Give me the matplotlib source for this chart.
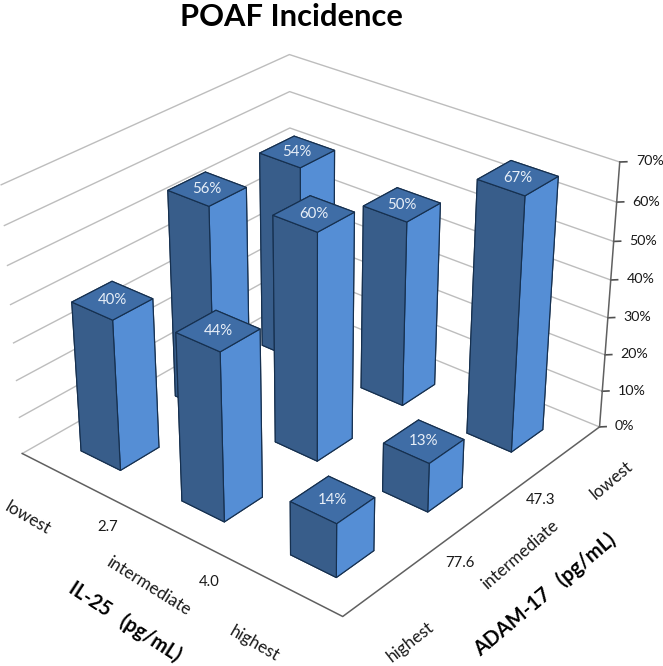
import matplotlib
matplotlib.use('Agg')
import matplotlib.pyplot as plt
from mpl_toolkits.mplot3d import proj3d

plt.rcParams['font.family'] = ['Lato', 'DejaVu Sans']

# data
il_levels = ['lowest', 'intermediate', 'highest']
adam_levels = ['highest', 'intermediate', 'lowest']
# rows = IL-25 level, columns = ADAM-17 level
poaf_lowest_il = [40, 56, 54]
poaf_mid_il = [44, 60, 50]
poaf_highest_il = [14, 13, 67]
z_ticks = [0, 10, 20, 30, 40, 50, 60, 70]

W, H = 663, 666
bar_w = 0.3993
dark, light, top = '#385D8A', '#558ED5', '#3F6DA6'
edge = '#16304F'
txt = '#1a1a1a'

fig = plt.figure(figsize=(W / 100, H / 100), dpi=100, facecolor='white')
size = 652.95
ax = fig.add_axes([(304.94 - size / 2) / W, (H - 320.11 - size / 2) / H, size / W, size / H],
                  projection='3d', proj_type='persp', focal_length=0.6111)
ax.view_init(elev=29.2, azim=-49.97)
ax.set_box_aspect((1.0033, 1, 0.7216))
ax.computed_zorder = False
ax.set_axis_off()

# walls and floor
for z in z_ticks:
    ax.plot([0, 0, 3], [0, 3, 3], [z, z, z], color='#BDBDBD', lw=1.0, zorder=1)
    ax.plot([3, 3.035], [3, 3.035], [z, z], color='#505050', lw=1.2, zorder=2)
ax.plot([0, 3, 3], [0, 0, 3], [0, 0, 0], color='#606060', lw=1.1, zorder=2)
ax.plot([3, 3], [3, 3], [0, 70], color='#606060', lw=1.1, zorder=2)

# bars, back to front
poaf = [poaf_lowest_il, poaf_mid_il, poaf_highest_il]
cells = [(i, j) for i in range(3) for j in range(3)]
cells.sort(key=lambda c: c[0] - c[1])
for n, (i, j) in enumerate(cells):
    v = poaf[i][j]
    # faces: -Z, +Z, -Y, +Y, -X, +X
    ax.bar3d(i + 0.5 - bar_w / 2, j + 0.5 - bar_w / 2, 0, bar_w, bar_w, v,
             color=[dark, top, dark, light, dark, light], edgecolor=edge, linewidth=0.85,
             shade=False, zorder=10 + n)

ax.set_xlim(0, 3)
ax.set_ylim(0, 3)
ax.set_zlim(0, 70)


# text3D boxes are wrong until drawn, so project first and place plain text
def label3d(x, y, z, s, fs=10.8, **kw):
    px, py, _ = proj3d.proj_transform(x, y, z, ax.get_proj())
    ax.text2D(px, py, s, transform=ax.transData, fontsize=fs, va='center', **kw)


for z in z_ticks:
    label3d(3.08, 3.08, z, f'{z}%', fs=10.3, ha='left', color=txt, zorder=200)
for n, (i, j) in enumerate(cells):
    v = poaf[i][j]
    label3d(i + 0.5, j + 0.5, v, f'{v}%', ha='center', color='#E8EFF8', zorder=10.5 + n)


def px_text(x, y, s, rot=0, fs=12.3, weight='normal', color=txt):
    fig.text(x / W, 1 - y / H, s, rotation=rot, rotation_mode='anchor', ha='center', va='center',
             fontsize=fs, fontweight=weight, color=color)


px_text(291, 17, 'POAF Incidence', fs=22.2, weight='bold', color='black')

# IL-25 axis
px_text(28, 518, il_levels[0], -30)
px_text(108, 527, '2.7', fs=10.8)
px_text(148, 586, il_levels[1], -32)
px_text(209, 582, '4.0', fs=10.8)
px_text(254, 644, il_levels[2], -30)
px_text(125, 622, 'IL-25   (pg/mL)', -33, fs=14.2, weight='bold', color='black')

# ADAM-17 axis
px_text(410, 642, adam_levels[0], 38)
px_text(460, 563, '77.6', fs=10.8)
px_text(520, 555, adam_levels[1], 41)
px_text(541, 500, '47.3', fs=10.8)
px_text(612, 480, adam_levels[2], 40)
px_text(545, 595, 'ADAM-17   (pg/mL)', 40, fs=14.6, weight='bold', color='black')

fig.savefig('out.png', dpi=100)
